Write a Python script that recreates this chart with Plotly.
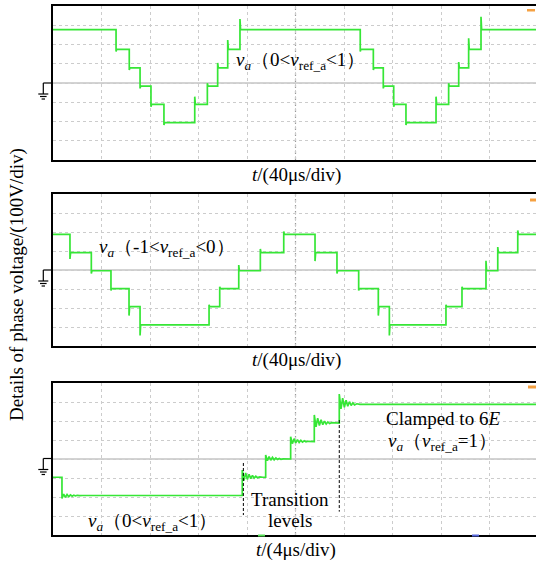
import plotly.graph_objects as go

W, H = 536, 564
FONT = "Liberation Serif"
GREEN = "#36e636"

# ---------------- data ----------------
# Panel 1: 40 us/div, 100 V/div
p1_levels = [277, 175, 79, -16, -111, -206]
p1_seq = [0, 1, 2, 3, 4, 5, 4, 3, 2, 1, 0, 1, 2, 3, 4, 5, 4, 3, 2, 1, 0]
p1_edges_us = [52.0, 62.9, 71.8, 80.8, 91.5, 116.9, 127.3, 135.8, 144.1, 154.2,
               253.4, 264.2, 272.4, 281.0, 291.1, 315.9, 326.3, 334.6, 342.8, 353.0]
p1_spikes = [-12, -12, -12, -12, -12, 40, 15, 25, 48, 55,
             -12, -12, -12, -12, -12, 40, 15, 30, 57, 67]

# Panel 2: 40 us/div, 100 V/div
p2_levels = [188, 91, -4, -98, -193, -289]
p2_seq = [0, 1, 2, 3, 4, 5, 4, 3, 2, 1, 0, 1, 2, 3, 4, 5, 4, 3, 2, 1, 0]
p2_edges_us = [14.0, 31.6, 47.8, 62.7, 71.8, 128.7, 137.5, 153.2, 171.0, 190.3,
               216.1, 234.2, 252.1, 268.3, 277.4, 324.1, 337.3, 357.1, 366.8, 383.3]
p2_spikes = [-33, -15, -10, -47, -56, 10, 10, 30, 20, 15,
             -44, -15, -10, -47, -56, 10, 10, 53, 30, 20]

# Panel 3: 4 us/div, 100 V/div
p3_levels = [-192, -96, 0, 92, 189, 288]
p3_seq = [1, 0, 1, 2, 3, 4, 5]
p3_edges_us = [0.74, 15.61, 17.54, 19.60, 21.55, 23.61]
p3_overshoot = [-16, 38, 21, 25, 43, 54]
p3_ring_dt = [0, 0.14, 0.28, 0.42, 0.56, 0.70, 0.84, 0.98, 1.12, 1.26, 1.45, 1.7]
p3_ring_shape = [1, -0.45, 0.6, -0.3, 0.4, -0.2, 0.25, -0.12, 0.14, -0.06, 0.05, 0]

spike_dt = [0, 0.5]
spike_shape = [1, 0]

# ---------------- geometry ----------------
X0_PX = 53
DIV_PX = 48.5
p1_xmax = (W - X0_PX) / DIV_PX * 40
p3_xmax = (W - X0_PX) / DIV_PX * 4


def px(x):
    return x / W


def py(y):
    return 1 - y / H


def build(edges, seq, levels, spikes, dts, shape, xmax):
    xs, ys = [0], [levels[seq[0]]]
    for i, t in enumerate(edges):
        prev, new = levels[seq[i]], levels[seq[i + 1]]
        xs.append(t)
        ys.append(prev)
        for dt, f in zip(dts, shape):
            xs.append(t + dt)
            ys.append(new + spikes[i] * f)
    xs.append(xmax)
    ys.append(levels[seq[-1]])
    return xs, ys


fig = go.Figure()

x1, y1 = build(p1_edges_us, p1_seq, p1_levels, p1_spikes, spike_dt, spike_shape, p1_xmax)
x2, y2 = build(p2_edges_us, p2_seq, p2_levels, p2_spikes, spike_dt, spike_shape, p1_xmax)
x3, y3 = build(p3_edges_us, p3_seq, p3_levels, p3_overshoot, p3_ring_dt, p3_ring_shape, p3_xmax)

for xs, ys, xa, ya in [(x1, y1, "x", "y"), (x2, y2, "x2", "y2"), (x3, y3, "x3", "y3")]:
    fig.add_trace(go.Scatter(x=xs, y=ys, mode="lines", xaxis=xa, yaxis=ya,
                             line=dict(color=GREEN, width=1.7), showlegend=False,
                             hoverinfo="skip"))

panels = [  # (top px, bottom px)
    (6, 160), (194, 346), (383, 535)
]
xdt = [40, 40, 4]
xmaxs = [p1_xmax, p1_xmax, p3_xmax]
layout = dict(width=W, height=H, margin=dict(l=0, r=0, t=0, b=0),
              paper_bgcolor="white", plot_bgcolor="white", showlegend=False)
for i, (top, bot) in enumerate(panels):
    sx = "" if i == 0 else str(i + 1)
    layout["xaxis" + sx] = dict(domain=[px(X0_PX), 1], range=[0, xmaxs[i]], dtick=xdt[i],
                                tick0=0, showgrid=True, gridcolor="#cccccc", griddash="dot",
                                gridwidth=1, zeroline=False, showticklabels=False, ticks="",
                                showline=True, linecolor="black", linewidth=2, mirror=True,
                                anchor="y" + sx, fixedrange=True)
    layout["yaxis" + sx] = dict(domain=[py(bot), py(top)], range=[-400, 400], dtick=100,
                                showgrid=True, gridcolor="#cccccc", griddash="dot",
                                gridwidth=1, zeroline=False, showticklabels=False, ticks="",
                                showline=True, linecolor="black", linewidth=2, mirror=False,
                                anchor="x" + sx, fixedrange=True)
fig.update_layout(**layout)

shapes = []
# centre cross lines
for i in range(3):
    sx = "" if i == 0 else str(i + 1)
    shapes.append(dict(type="line", xref="x" + sx, yref="y" + sx, x0=0, x1=xmaxs[i], y0=0, y1=0,
                       line=dict(color="#a8a8a8", width=1.2), layer="below"))
    shapes.append(dict(type="line", xref="x" + sx, yref="y" + sx, x0=5 * xdt[i], x1=5 * xdt[i],
                       y0=-400, y1=400, line=dict(color="#999999", width=1.2, dash="dot"),
                       layer="below"))

# ground symbols
for cy in [83, 270, 458.5]:
    shapes.append(dict(type="line", xref="paper", yref="paper", x0=px(43.3), x1=px(53),
                       y0=py(cy), y1=py(cy), line=dict(color="black", width=1.2)))
    shapes.append(dict(type="line", xref="paper", yref="paper", x0=px(43.3), x1=px(43.3),
                       y0=py(cy), y1=py(cy + 11), line=dict(color="black", width=1.2)))
    for dy, hw in [(11, 5), (13.5, 3.3), (16, 1.7)]:
        shapes.append(dict(type="line", xref="paper", yref="paper", x0=px(43.3 - hw),
                           x1=px(43.3 + hw), y0=py(cy + dy), y1=py(cy + dy),
                           line=dict(color="black", width=1.2)))

# orange trigger markers
for (xa, xb, ya, yb) in [(527, 535, 9, 11.5), (530, 536, 198.5, 201.5), (528, 536, 385.5, 388.5)]:
    shapes.append(dict(type="rect", xref="paper", yref="paper", x0=px(xa), x1=px(xb),
                       y0=py(yb), y1=py(ya), line=dict(width=0), fillcolor="#f5a142"))
# small bottom markers on panel 3
shapes.append(dict(type="line", xref="paper", yref="paper", x0=px(258), x1=px(265),
                   y0=py(535.5), y1=py(535.5), line=dict(color="#55dd55", width=2)))
shapes.append(dict(type="line", xref="paper", yref="paper", x0=px(472), x1=px(479),
                   y0=py(535.5), y1=py(535.5), line=dict(color="#5566dd", width=2)))

# dashed markers in panel 3
shapes.append(dict(type="line", xref="x3", yref="y3", x0=15.70, x1=15.70, y0=-21, y1=-295,
                   line=dict(color="black", width=1, dash="3px,2px")))
shapes.append(dict(type="line", xref="x3", yref="y3", x0=23.61, x1=23.61, y0=205, y1=-277,
                   line=dict(color="black", width=1, dash="3px,2px")))
fig.update_layout(shapes=shapes)

va = "<i>v</i><sub><i>a</i></sub>"
vref = "<i>v</i><sub>ref_a</sub>"
texts = [
    (va + "（0&lt;" + vref + "&lt;1）", 300, 61, 0),
    (va + "（-1&lt;" + vref + "&lt;0）", 167, 248, 0),
    (va + "（0&lt;" + vref + "&lt;1）", 152, 522, 0),
    ("Transition", 290, 499, 0),
    ("levels", 290, 520, 0),
    ("Clamped to 6<i>E</i>", 443, 418, 0),
    (va + "（" + vref + "=1）", 442, 442, 0),
    ("<i>t</i>/(40μs/div)", 296, 175, 0),
    ("<i>t</i>/(40μs/div)", 296, 360, 0),
    ("<i>t</i>/(4μs/div)", 296, 550, 0),
    ("Details of phase voltage/(100V/div)", 17, 285, -90),
]
fig.update_layout(annotations=[
    dict(text=t, x=px(x), y=py(y), xref="paper", yref="paper", showarrow=False,
         xanchor="center", yanchor="middle", textangle=a,
         font=dict(family=FONT, size=19, color="black"))
    for t, x, y, a in texts
])

fig.write_html("out.html", config={"displayModeBar": False},
               post_script="document.body.style.margin='0px';document.body.style.padding='0px';"
                           "document.body.style.overflow='hidden';")
